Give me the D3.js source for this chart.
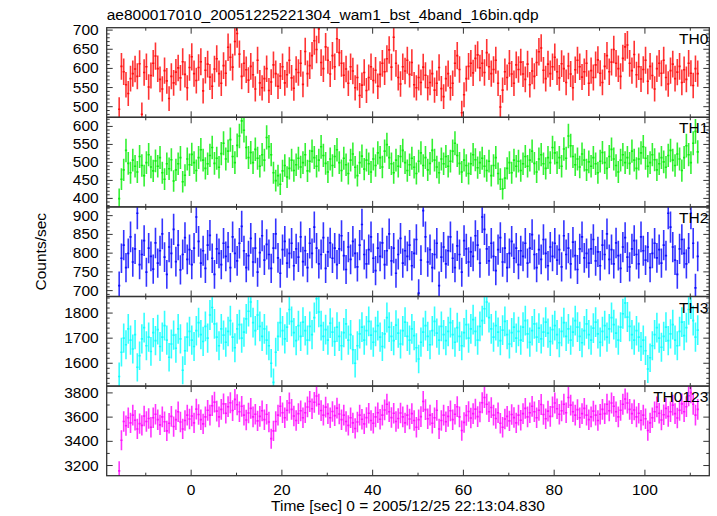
<!DOCTYPE html>
<html><head><meta charset="utf-8">
<script src="https://cdn.jsdelivr.net/npm/d3@7"></script>
<style>
body{margin:0;background:#fff}
svg{display:block}
text{font-family:"Liberation Sans",Arial,Helvetica,sans-serif;fill:#000}
</style>
</head><body><svg id="c" width="717" height="516"></svg>
<script>
const title = "ae800017010_20051225221304_wam1_bst_4band_16bin.qdp";
const xLabel = "Time [sec] 0 = 2005/12/25 22:13:04.830";
const yLabel = "Counts/sec";
const binWidth = 0.5;
const tStart = -16;
const xDomain = [-18.5, 114.3];
const xTicks = [0, 20, 40, 60, 80, 100];
const xMinorStep = 10;

const panelNames = ["TH0", "TH1", "TH2", "TH3", "TH0123"];
const panelColors = ["#ff0000", "#00ee00", "#0000ff", "#00ffff", "#ff00ff"];

const th0 = [
492,604,590,556,533,572,585,597,578,611,479,588,603,550,580,612,
631,598,570,545,593,566,520,578,561,589,600,574,616,583,548,601,
629,585,567,601,616,540,594,610,576,552,597,624,585,560,606,586,
654,628,602,669,690,636,578,612,595,568,604,582,545,620,561,548,
572,598,541,563,608,585,552,579,603,561,582,620,574,547,596,588,
612,557,643,585,606,632,671,648,702,614,598,655,620,584,632,603,
676,640,612,581,597,560,603,592,548,575,528,555,588,541,575,603,
567,594,552,583,612,590,624,647,602,680,612,575,558,603,592,620,
583,614,556,548,575,562,602,581,548,562,585,542,560,601,546,525,
572,585,548,560,612,632,596,483,530,572,604,612,587,625,634,600,
612,588,640,603,585,596,620,560,498,542,590,575,612,584,560,608,
596,615,584,570,610,556,592,578,614,642,652,594,572,610,585,603,
628,590,574,611,598,562,605,584,548,595,620,603,576,590,612,560,
593,575,608,621,586,562,604,632,590,615,648,612,598,578,625,655,
660,612,593,635,582,603,571,596,620,565,604,580,545,598,612,586,
620,575,558,593,610,572,589,604,562,595,570,612,586,554,598,585
];
const th1 = [
398,452,478,532,496,470,505,488,472,515,490,462,498,520,486,475,
503,488,512,470,452,495,481,506,447,478,495,512,445,463,508,492,
521,498,476,512,534,505,482,495,518,540,496,510,485,523,552,508,
530,562,515,498,546,572,614,588,540,512,526,498,535,510,488,520,
505,568,542,520,470,448,462,438,475,490,458,482,505,476,492,510,
486,498,520,475,502,530,512,488,505,542,518,496,472,508,490,515,
534,498,476,510,492,468,505,522,485,462,498,516,480,505,495,472,
508,490,525,512,486,530,548,512,495,470,505,488,515,532,498,476,
492,510,485,468,502,525,490,512,478,496,532,505,486,470,508,495,
515,488,502,530,552,518,496,472,505,490,468,495,520,506,484,498,
510,488,476,502,462,490,512,468,452,425,455,482,498,470,505,488,
502,476,495,515,488,505,530,496,472,508,520,495,482,512,498,540,
525,498,512,488,536,510,572,545,515,492,508,486,522,505,478,500,
488,512,495,470,502,526,498,482,515,535,508,490,472,505,520,498,
512,496,530,505,482,508,525,542,510,488,498,520,506,478,495,512,
500,485,518,532,505,490,522,508,476,512,545,520,498,552,585,528
];
const th2 = [
712,785,820,760,798,842,775,810,905,768,795,832,748,812,790,756,
826,772,805,850,788,742,815,798,862,776,820,754,795,840,782,808,
768,812,895,830,772,805,758,820,846,785,742,810,798,768,825,790,
815,760,842,798,778,825,870,805,760,792,838,775,812,748,800,845,
780,822,795,758,812,850,786,745,808,830,772,798,825,765,810,788,
842,776,805,760,825,798,868,812,770,795,840,758,802,826,785,812,
768,810,845,792,755,815,782,830,798,762,820,875,795,770,808,842,
785,752,812,790,826,768,805,850,778,812,745,795,838,772,805,790,
820,765,798,835,692,780,912,842,775,808,760,795,825,712,788,815,
770,805,842,785,760,818,795,748,832,810,775,802,790,845,820,772,
895,862,810,778,825,790,752,808,840,775,812,760,798,830,785,812,
768,805,790,825,772,812,848,795,760,808,782,835,798,765,815,790,
825,780,808,762,845,795,812,770,828,792,755,810,842,786,798,772,
810,835,778,802,765,820,795,850,782,808,770,826,792,758,815,840,
788,762,810,832,795,770,842,805,780,815,760,798,825,786,808,772,
820,792,905,868,815,780,742,810,835,798,770,812,905,825,706,790
];
const th3 = [
1545,1642,1698,1672,1735,1690,1655,1712,1582,1628,1695,1740,1668,1702,1645,1720,
1688,1732,1665,1702,1748,1690,1622,1675,1710,1658,1735,1695,1570,1648,1702,1725,
1690,1665,1728,1760,1712,1685,1745,1698,1790,1820,1755,1702,1668,1735,1710,1682,
1725,1768,1702,1660,1735,1752,1698,1722,1775,1805,1842,1760,1728,1790,1745,1705,
1735,1690,1668,1598,1522,1642,1705,1760,1728,1695,1742,1812,1765,1720,1688,1748,
1705,1762,1728,1690,1745,1712,1780,1855,1802,1748,1705,1732,1690,1758,1722,1685,
1742,1705,1668,1720,1755,1690,1712,1652,1598,1668,1715,1742,1690,1728,1765,1710,
1682,1725,1748,1702,1665,1715,1780,1742,1705,1688,1750,1718,1675,1728,1762,1705,
1690,1735,1708,1660,1615,1682,1722,1748,1705,1672,1728,1765,1718,1690,1745,1712,
1688,1725,1760,1712,1682,1740,1705,1668,1720,1752,1698,1735,1772,1725,1690,1745,
1768,1815,1842,1780,1735,1702,1748,1722,1688,1730,1765,1712,1675,1720,1742,1698,
1725,1690,1742,1768,1715,1682,1728,1755,1702,1738,1695,1722,1762,1718,1685,1732,
1748,1712,1680,1725,1760,1705,1735,1690,1722,1768,1742,1705,1680,1728,1755,1712,
1690,1738,1762,1715,1682,1725,1748,1702,1735,1780,1752,1718,1690,1742,1795,1838,
1782,1745,1712,1690,1728,1702,1665,1690,1648,1575,1620,1668,1712,1740,1698,1662,
1705,1742,1688,1715,1752,1690,1668,1725,1762,1708,1740,1812,1835,1768,1702,1730
];
const th0123 = [
3152,3405,3560,3525,3590,3548,3612,3570,3498,3542,3528,3605,3560,3585,3512,3590,
3620,3575,3532,3598,3558,3482,3545,3602,3518,3575,3640,3555,3498,3568,3612,3580,
3605,3548,3662,3618,3575,3540,3598,3652,3612,3690,3720,3645,3598,3660,3705,3628,
3682,3715,3650,3742,3698,3640,3685,3612,3572,3630,3668,3598,3620,3565,3602,3648,
3575,3620,3555,3418,3482,3560,3612,3685,3632,3590,3652,3712,3660,3605,3568,3625,
3648,3590,3632,3680,3725,3665,3718,3770,3702,3650,3612,3678,3625,3590,3642,3608,
3670,3622,3575,3612,3560,3528,3590,3548,3502,3555,3612,3578,3540,3592,3628,3568,
3545,3598,3632,3578,3612,3655,3702,3640,3592,3628,3560,3585,3630,3598,3548,3612,
3580,3625,3568,3512,3575,3600,3725,3658,3582,3612,3545,3590,3652,3498,3568,3612,
3558,3602,3648,3575,3620,3682,3598,3485,3552,3610,3642,3588,3625,3662,3600,3638,
3715,3758,3702,3640,3675,3612,3585,3632,3545,3512,3580,3602,3565,3618,3592,3548,
3612,3570,3625,3668,3598,3632,3685,3640,3590,3652,3700,3618,3582,3645,3602,3680,
3712,3665,3620,3648,3702,3632,3758,3695,3640,3612,3658,3590,3625,3668,3612,3575,
3598,3645,3612,3568,3620,3660,3625,3702,3648,3712,3685,3640,3598,3652,3702,3745,
3712,3660,3625,3655,3598,3628,3570,3612,3582,3485,3548,3590,3640,3680,3628,3572,
3615,3668,3602,3640,3695,3625,3588,3652,3705,3640,3682,3772,3798,3702,3612,3660
];

const yDomains = [[471, 705], [375, 624], [683, 922], [1507, 1864], [3112, 3852]];
const yMajorTicks = [
  [500, 550, 600, 650, 700],
  [400, 450, 500, 550, 600],
  [700, 750, 800, 850, 900],
  [1600, 1700, 1800],
  [3200, 3400, 3600, 3800]
];
const yMinorSteps = [10, 10, 10, 20, 100];
const seriesList = [th0, th1, th2, th3, th0123];

// layout
const L = 106.7, R = 709.3, T = 27.7, B = 475.7;
const nP = seriesList.length;
const pH = (B - T) / nP;
const svg = d3.select("#c");
const x = d3.scaleLinear().domain(xDomain).range([L, R]);
const xMinor = d3.range(-10, 111, xMinorStep).filter(v => !xTicks.includes(v) && v >= xDomain[0] && v <= xDomain[1]);
const FS = 15.5;
const axisColor = "#333";

svg.append("text").attr("x", L).attr("y", 20).attr("font-size", FS).text(title);

seriesList.forEach((vals, p) => {
  const top = T + p * pH, bot = top + pH;
  const y = d3.scaleLinear().domain(yDomains[p]).range([bot, top]);
  const g = svg.append("g");
  const clipId = "clip" + p;
  svg.append("clipPath").attr("id", clipId).append("rect")
    .attr("x", L).attr("y", top).attr("width", R - L).attr("height", pH);

  const color = panelColors[p];
  const data = vals.map((v, i) => {
    const t0 = tStart + i * binWidth;
    return {t0: t0, t1: t0 + binWidth, tc: t0 + binWidth / 2, v: v, e: Math.sqrt(v / binWidth)};
  });
  const dg = g.append("g").attr("clip-path", `url(#${clipId})`)
    .attr("stroke", color).attr("stroke-width", 1.6).attr("stroke-opacity", 0.8);
  dg.selectAll("line.eb").data(data).join("line").attr("class", "eb")
    .attr("x1", d => x(d.tc)).attr("x2", d => x(d.tc))
    .attr("y1", d => y(d.v - d.e)).attr("y2", d => y(d.v + d.e));
  dg.selectAll("line.hb").data(data).join("line").attr("class", "hb")
    .attr("x1", d => x(d.t0)).attr("x2", d => x(d.t1))
    .attr("y1", d => y(d.v)).attr("y2", d => y(d.v));

  // y minor ticks
  const d0 = yDomains[p][0], d1 = yDomains[p][1], st = yMinorSteps[p];
  const yMinor = d3.range(Math.ceil(d0 / st) * st, d1 + 1e-9, st).filter(v => !yMajorTicks[p].includes(v));

  const ax = (a) => a.call(s => s.select(".domain").remove())
    .call(s => s.selectAll(".tick line").attr("stroke", axisColor).attr("stroke-width", 1));

  g.append("g").attr("transform", `translate(${L},0)`)
    .call(d3.axisLeft(y).tickValues(yMajorTicks[p]).tickSize(-6).tickPadding(8).tickFormat(d3.format("d")))
    .call(ax).call(s => s.selectAll("text").attr("font-size", FS).attr("font-family", null).attr("fill", "#000"));
  g.append("g").attr("transform", `translate(${L},0)`)
    .call(d3.axisLeft(y).tickValues(yMinor).tickSize(-3).tickFormat("")).call(ax);
  g.append("g").attr("transform", `translate(${R},0)`)
    .call(d3.axisRight(y).tickValues(yMajorTicks[p]).tickSize(-6).tickFormat("")).call(ax);
  g.append("g").attr("transform", `translate(${R},0)`)
    .call(d3.axisRight(y).tickValues(yMinor).tickSize(-3).tickFormat("")).call(ax);

  // x ticks top & bottom
  g.append("g").attr("transform", `translate(0,${top})`)
    .call(d3.axisTop(x).tickValues(xTicks).tickSize(-6).tickFormat("")).call(ax);
  g.append("g").attr("transform", `translate(0,${top})`)
    .call(d3.axisTop(x).tickValues(xMinor).tickSize(-3).tickFormat("")).call(ax);
  g.append("g").attr("transform", `translate(0,${bot})`)
    .call(d3.axisBottom(x).tickValues(xTicks).tickSize(-6).tickPadding(8)
      .tickFormat(p === nP - 1 ? d3.format("d") : "")).call(ax)
    .call(s => s.selectAll("text").attr("font-size", FS).attr("font-family", null).attr("fill", "#000"));
  g.append("g").attr("transform", `translate(0,${bot})`)
    .call(d3.axisBottom(x).tickValues(xMinor).tickSize(-3).tickFormat("")).call(ax);

  g.append("rect").attr("x", L).attr("y", top).attr("width", R - L).attr("height", pH)
    .attr("fill", "none").attr("stroke", axisColor).attr("stroke-width", 1.3);

  g.append("text").attr("x", R - 1).attr("y", top + 16).attr("text-anchor", "end")
    .attr("font-size", FS).text(panelNames[p]);
});

svg.append("text").attr("x", (L + R) / 2).attr("y", 511).attr("text-anchor", "middle")
  .attr("font-size", FS).text(xLabel);
svg.append("text").attr("transform", `translate(46,${(T + B) / 2}) rotate(-90)`)
  .attr("text-anchor", "middle").attr("font-size", FS).text(yLabel);
</script>
</body></html>
